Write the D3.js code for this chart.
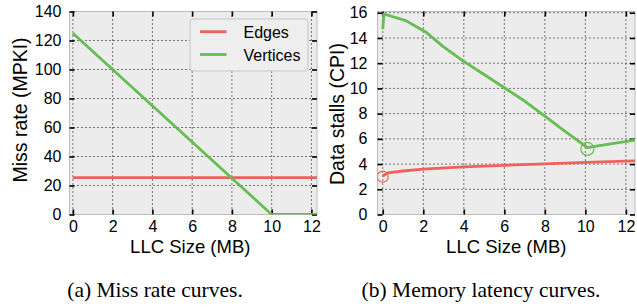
<!DOCTYPE html>
<html>
<head>
<meta charset="utf-8">
<script src="https://cdn.jsdelivr.net/npm/d3@7"></script>
<style>
  body { margin: 0; background: #fff; }
  svg { display: block; }
  text { font-family: "Liberation Sans", Arial, sans-serif; fill: #000; }
  .cap { font-family: "Liberation Serif", "Times New Roman", serif; }
</style>
</head>
<body>
<div id="chart"></div>
<script>
// ---- data ----
var llcTicks = [0, 2, 4, 6, 8, 10, 12];
var missTicks = [0, 20, 40, 60, 80, 100, 120, 140];
var stallTicks = [0, 2, 4, 6, 8, 10, 12, 14, 16];

// (a) miss rate curves
var missEdgesX = [0, 12.6];
var missEdgesY = [25.5, 25.5];
var missVertX = [0, 2, 4, 6, 8, 10, 12.6];
var missVertY = [125, 100, 75, 50, 25, 0, 0];

// (b) memory latency curves
var stallEdgesX = [0, 0.25, 1, 2, 4, 6, 8, 10, 12.6];
var stallEdgesY = [3.05, 3.3, 3.45, 3.6, 3.78, 3.9, 4.02, 4.13, 4.26];
var stallVertX = [0, 0.06, 1.1, 2.1, 3, 4, 5, 6, 7, 8, 9, 10.1, 11, 12.6];
var stallVertY = [14.7, 15.9, 15.4, 14.5, 13.3, 12.15, 11.1, 10.05, 9.0, 7.8, 6.6, 5.3, 5.55, 5.93];

// circled points in (b)
var stallMarkX = [0, 10.1];
var stallMarkY = [3.0, 5.2];

var seriesNames = ["Edges", "Vertices"];
var colors = ["#ef625b", "#66bd52"];

var width = 637, height = 308;

var svg = d3.select("#chart").append("svg")
  .attr("width", width)
  .attr("height", height);

//function to draw one panel
function panel(opt) {
  var x = d3.scaleLinear().domain(opt.xDomain).range([opt.left, opt.right]);
  var y = d3.scaleLinear().domain(opt.yDomain).range([opt.bottom, opt.top]);

  var g = svg.append("g");

  g.append("rect")
    .attr("x", opt.left).attr("y", opt.top)
    .attr("width", opt.right - opt.left)
    .attr("height", opt.bottom - opt.top)
    .attr("fill", "#ececec");

  var clipId = "clip-" + opt.id;
  g.append("clipPath").attr("id", clipId)
    .append("rect")
    .attr("x", opt.left).attr("y", opt.top)
    .attr("width", opt.right - opt.left)
    .attr("height", opt.bottom - opt.top);

  // dotted grid
  g.append("g").selectAll("line")
    .data(opt.xTicks)
    .enter().append("line")
    .attr("x1", function(d){ return x(d) }).attr("x2", function(d){ return x(d) })
    .attr("y1", opt.top).attr("y2", opt.bottom)
    .attr("stroke", "#000").attr("stroke-width", 1)
    .attr("stroke-dasharray", "1,3");

  g.append("g").selectAll("line")
    .data(opt.yTicks)
    .enter().append("line")
    .attr("y1", function(d){ return y(d) }).attr("y2", function(d){ return y(d) })
    .attr("x1", opt.left).attr("x2", opt.right)
    .attr("stroke", "#000").attr("stroke-width", 1)
    .attr("stroke-dasharray", "1,3");

  // frame
  g.append("rect")
    .attr("x", opt.left).attr("y", opt.top)
    .attr("width", opt.right - opt.left)
    .attr("height", opt.bottom - opt.top)
    .attr("fill", "none").attr("stroke", "#bcbcbc").attr("stroke-width", 1);

  // axes, ticks inward on all sides
  var xb = g.append("g").attr("transform", "translate(0," + opt.bottom + ")")
    .call(d3.axisBottom(x).tickValues(opt.xTicks).tickSizeInner(-5).tickSizeOuter(0).tickPadding(6));
  var xt = g.append("g").attr("transform", "translate(0," + opt.top + ")")
    .call(d3.axisTop(x).tickValues(opt.xTicks).tickSizeInner(-5).tickSizeOuter(0).tickFormat(""));
  var yl = g.append("g").attr("transform", "translate(" + opt.left + ",0)")
    .call(d3.axisLeft(y).tickValues(opt.yTicks).tickSizeInner(-5).tickSizeOuter(0).tickPadding(opt.yPad));
  var yr = g.append("g").attr("transform", "translate(" + opt.right + ",0)")
    .call(d3.axisRight(y).tickValues(opt.yTicks).tickSizeInner(-5).tickSizeOuter(0).tickFormat(""));

  [xb, xt, yl, yr].forEach(function(a){
    a.select(".domain").remove();
    a.selectAll(".tick line").attr("stroke", "#000").attr("stroke-width", 1.6);
    a.selectAll("text").attr("font-size", 16).attr("font-family", "Liberation Sans, Arial, sans-serif");
  });

  // series
  var line = d3.line()
    .x(function(d){ return x(d[0]) })
    .y(function(d){ return y(d[1]) });

  var lines = g.append("g").attr("clip-path", "url(#" + clipId + ")");
  opt.series.forEach(function(s, i){
    var pts = s.x.map(function(v, j){ return [v, s.y[j]] });
    lines.append("path")
      .datum(pts)
      .attr("d", line)
      .attr("fill", "none")
      .attr("stroke", colors[i])
      .attr("stroke-width", 2.8)
      .attr("stroke-linejoin", "round");
  });

  if (opt.marks) {
    lines.selectAll("circle")
      .data(opt.marks.x)
      .enter().append("circle")
      .attr("cx", function(d){ return x(d) })
      .attr("cy", function(d, i){ return y(opt.marks.y[i]) })
      .attr("r", function(d, i){ return i === 0 ? 5.5 : 6.5 })
      .attr("fill", "none")
      .attr("stroke", function(d, i){ return colors[i] })
      .attr("stroke-width", 1.2);
  }

  // axis titles
  g.append("text")
    .attr("x", (opt.left + opt.right) / 2 + opt.xTitleShift)
    .attr("y", 252.5)
    .attr("text-anchor", "middle")
    .attr("font-size", 18.5)
    .text("LLC Size (MB)");

  g.append("text")
    .attr("transform", "translate(" + opt.yTitleX + "," + opt.yTitleY + ") rotate(-90)")
    .attr("text-anchor", "middle")
    .attr("font-size", 19.5)
    .text(opt.yTitle);

  g.append("text")
    .attr("class", "cap")
    .attr("x", opt.capX)
    .attr("y", 297)
    .attr("text-anchor", "middle")
    .attr("font-size", 21.5)
    .text(opt.caption);

  return {x: x, y: y, g: g};
}

var pa = panel({
  id: "a",
  left: 69.5, right: 317, top: 11.5, bottom: 214.5,
  xDomain: [-0.17, 12.28], yDomain: [0, 140],
  xTicks: llcTicks, yTicks: missTicks, yPad: 8,
  series: [{x: missEdgesX, y: missEdgesY}, {x: missVertX, y: missVertY}],
  xTitleShift: -3,
  yTitle: "Miss rate (MPKI)", yTitleX: 26.5, yTitleY: 110,
  caption: "(a) Miss rate curves.", capX: 155
});

var pb = panel({
  id: "b",
  left: 377.5, right: 635, top: 11.5, bottom: 214.5,
  xDomain: [-0.26, 12.45], yDomain: [0, 16.1],
  xTicks: llcTicks, yTicks: stallTicks, yPad: 10,
  series: [{x: stallEdgesX, y: stallEdgesY}, {x: stallVertX, y: stallVertY}],
  marks: {x: stallMarkX, y: stallMarkY},
  xTitleShift: 0,
  yTitle: "Data stalls (CPI)", yTitleX: 343.5, yTitleY: 114,
  caption: "(b) Memory latency curves.", capX: 481
});

// legend in (a)
var legend = svg.append("g");
legend.append("rect")
  .attr("x", 190).attr("y", 19)
  .attr("width", 118).attr("height", 52)
  .attr("rx", 3)
  .attr("fill", "#eeeeee")
  .attr("stroke", "#c8c8c8").attr("stroke-width", 1);

var item = legend.selectAll("g.item")
  .data(seriesNames)
  .enter().append("g")
  .attr("class", "item")
  .attr("transform", function(d, i){ return "translate(0," + (31.7 + i * 22.8) + ")" });

item.append("line")
  .attr("x1", 200).attr("x2", 226.5)
  .attr("stroke", function(d, i){ return colors[i] })
  .attr("stroke-width", 2.8);

item.append("text")
  .attr("x", 243.5)
  .attr("y", 6)
  .attr("font-size", 16)
  .text(function(d){ return d });
</script>
</body>
</html>
